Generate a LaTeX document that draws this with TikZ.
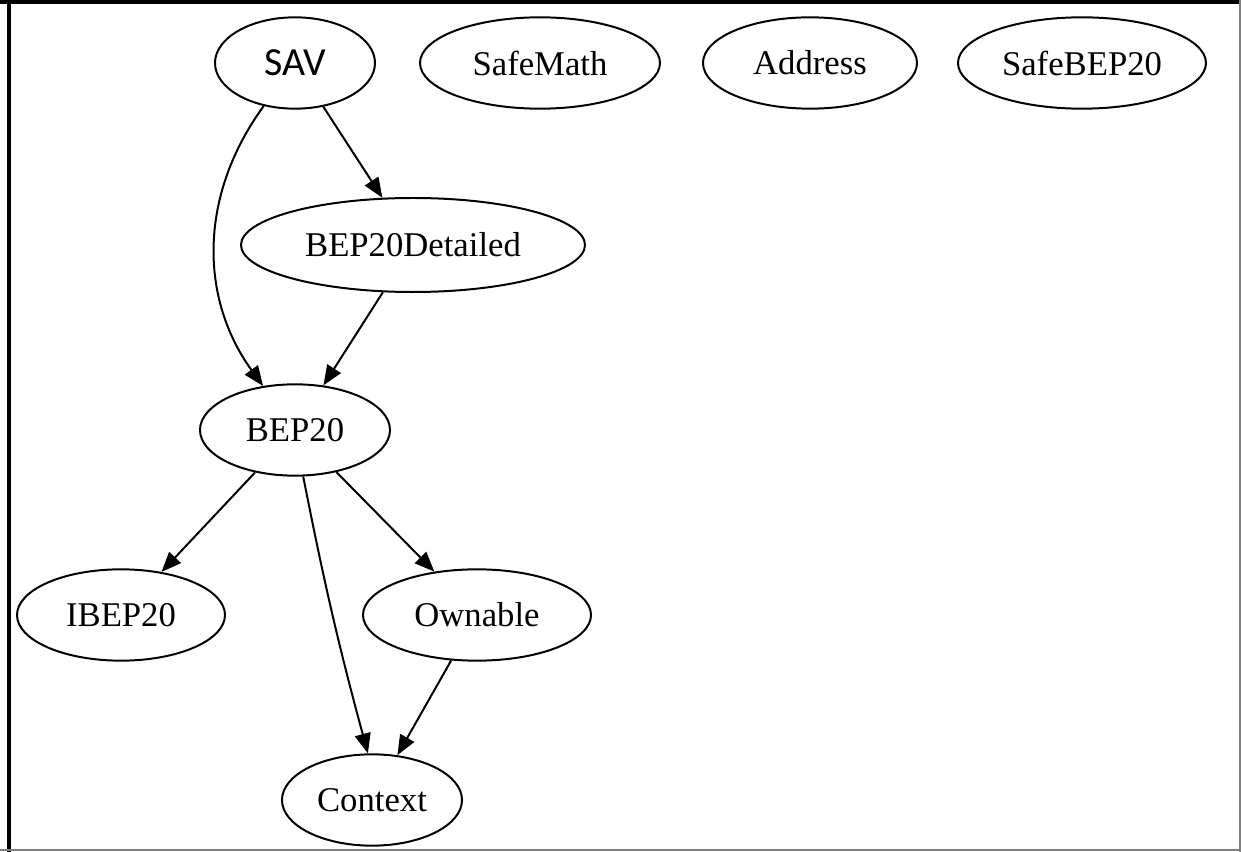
\documentclass[tikz,border=0pt]{standalone}
\usepackage{fontspec}
\setmainfont{Liberation Serif}
\newfontfamily\savfont{Carlito}
\usetikzlibrary{arrows.meta,shapes.geometric,positioning}

\begin{document}
\begin{tikzpicture}[x=0.015cm,y=-0.015cm]
                        \tikzset{Vertex/.style={%
                                shape=ellipse,%
                                draw=black,%
                                line width=0.85pt,%
                                minimum height=1.37cm,%
                                inner sep=0pt,%
                                font=\fontsize{14.8}{17}\selectfont,%
                            },
                            Link/.style={-{Triangle[length=8.5pt,width=6.8pt]},line width=0.85pt}}

                            \useasboundingbox (0,0) rectangle (1241,852);
                            % window frame
                            \draw[line width=1.7pt] (9,0) -- (9,852);
                            \draw[line width=1.7pt] (0,2) -- (1241,2);
                            \draw[gray, line width=0.6pt] (1240,0) -- (1240,852);
                            \draw[gray, line width=0.6pt] (0,850) -- (1241,850);

                            \node[Vertex, minimum width=2.4cm, font=\savfont\fontsize{17}{20}\selectfont] (SAV) at (295,63) {SAV};
                            \node[Vertex, minimum width=3.6cm] (SafeMath) at (540,63) {SafeMath};
                            \node[Vertex, minimum width=3.21cm] (Address) at (810,63) {Address};
                            \node[Vertex, minimum width=3.72cm] (SafeBEP20) at (1082,63) {SafeBEP20};
                            \node[Vertex, minimum width=5.16cm, minimum height=1.41cm] (BEP20Detailed) at (413,245) {BEP20Detailed};
                            \node[Vertex, minimum width=2.85cm] (BEP20) at (295,430) {BEP20};
                            \node[Vertex, minimum width=3.12cm] (IBEP20) at (121,615) {IBEP20};
                            \node[Vertex, minimum width=3.42cm] (Ownable) at (477,615) {Ownable};
                            \node[Vertex, minimum width=2.7cm] (Context) at (372,800) {Context};

                            \path (SAV) edge[Link] (BEP20Detailed);
                            \path (SAV) edge[Link, bend right=36] (BEP20);
                            \path (BEP20Detailed) edge[Link] (BEP20);
                            \path (BEP20) edge[Link] (IBEP20);
                            \path (BEP20.-80) edge[Link, bend right=2] (Context.95);
                            \path (BEP20) edge[Link] (Ownable);
                            \path (Ownable) edge[Link] (Context);
                    \end{tikzpicture}
\end{document}
